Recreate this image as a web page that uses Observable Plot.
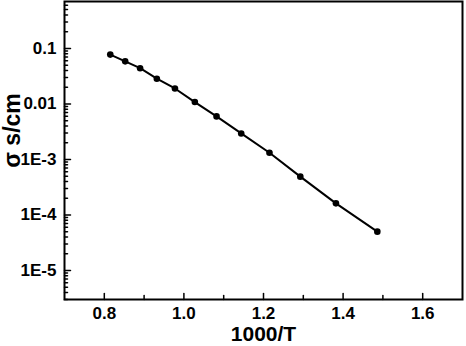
<!DOCTYPE html>
<html>
<head>
<meta charset="utf-8">
<script src="https://cdn.jsdelivr.net/npm/d3@7"></script>
<script src="https://cdn.jsdelivr.net/npm/@observablehq/plot@0.6"></script>
<style>
html, body { margin: 0; padding: 0; background: #fff; }
svg { font-family: "Liberation Sans", Arial, sans-serif; font-weight: bold; }
</style>
</head>
<body>
<div id="chart"></div>
<script>
// Data
const invT = [0.815, 0.8525, 0.89, 0.932, 0.9775, 1.0275, 1.082, 1.144, 1.215, 1.2925, 1.382, 1.486];
const sigma = [0.0773, 0.0585, 0.044, 0.0285, 0.019, 0.0108, 0.00596, 0.00294, 0.00132, 0.00049, 0.000162, 0.000050];

const xMajor = [0.8, 1.0, 1.2, 1.4, 1.6];
const xMinor = [0.9, 1.1, 1.3, 1.5];
const xTickLabels = ["0.8", "1.0", "1.2", "1.4", "1.6"];
const yMajor = [0.1, 0.01, 1e-3, 1e-4, 1e-5];
const yTickLabels = ["0.1", "0.01", "1E-3", "1E-4", "1E-5"];
const yMinor = [];
for (let e = -6; e <= -1; e++) for (let m = 2; m <= 9; m++) {
  const v = m * Math.pow(10, e);
  if (v >= 3e-6 && v <= 0.7) yMinor.push(v);
}
const xLabel = "1000/T";
const yLabel = "σ s/cm";

const data = invT.map((x, i) => ({x, y: sigma[i]}));
const tickShape = { draw(context, l) { context.moveTo(0, 0); context.lineTo(0, -l); } };

const chart = Plot.plot({
  width: 466,
  height: 346,
  marginLeft: 64,
  marginRight: 4,
  marginTop: 1,
  marginBottom: 47,
  style: { fontFamily: "Liberation Sans, Arial, sans-serif", fontWeight: "bold", background: "#fff" },
  x: { domain: [0.7, 1.7], axis: null },
  y: { type: "log", domain: [3e-6, 0.7], axis: null },
  marks: [
    Plot.text(xMajor, {x: d => d, text: (d, i) => xTickLabels[i], frameAnchor: "bottom", textAnchor: "middle", lineAnchor: "middle", dy: 14, fontSize: 17, fontWeight: "bold", fill: "#000"}),
    Plot.text(yMajor, {y: d => d, text: (d, i) => yTickLabels[i], frameAnchor: "left", textAnchor: "end", lineAnchor: "middle", dx: -8, fontSize: 17, fontWeight: "bold", fill: "#000"}),
    Plot.vector(xMajor, {x: d => d, frameAnchor: "bottom", length: 6, rotate: 0, anchor: "start", shape: tickShape, strokeWidth: 1.5}),
    Plot.vector(xMinor, {x: d => d, frameAnchor: "bottom", length: 4, rotate: 0, anchor: "start", shape: tickShape, strokeWidth: 1.5}),
    Plot.vector(yMajor, {y: d => d, frameAnchor: "left", length: 6, rotate: 90, anchor: "start", shape: tickShape, strokeWidth: 1.5}),
    Plot.vector(yMinor, {y: d => d, frameAnchor: "left", length: 3, rotate: 90, anchor: "start", shape: tickShape, strokeWidth: 1.5}),
    Plot.frame({stroke: "#000", strokeWidth: 2}),
    Plot.line(data, {x: "x", y: "y", stroke: "#000", strokeWidth: 2}),
    Plot.dot(data, {x: "x", y: "y", r: 3.3, fill: "#000", stroke: "none"}),
    Plot.text([xLabel], {frameAnchor: "bottom", textAnchor: "middle", lineAnchor: "middle", dy: 35, fontSize: 21, fontWeight: "bold", fill: "#000"}),
    Plot.text([yLabel], {frameAnchor: "left", textAnchor: "middle", lineAnchor: "middle", dx: -52, dy: -20, rotate: -90, fontSize: 23, fontWeight: "bold", fill: "#000"})
  ]
});
document.getElementById("chart").appendChild(chart);
</script>
</body>
</html>
